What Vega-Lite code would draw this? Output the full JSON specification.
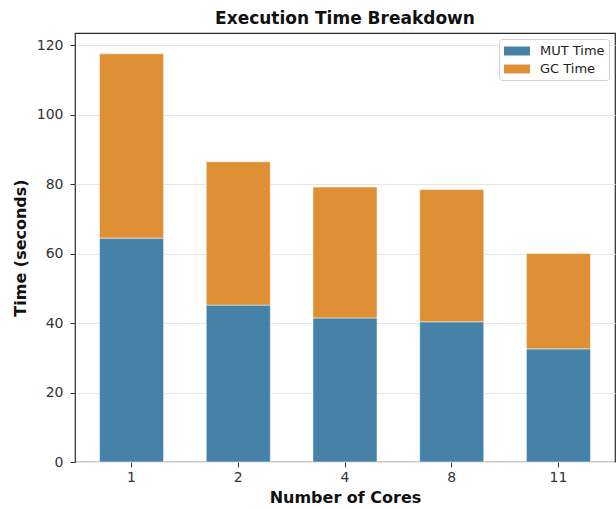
{
  "$schema": "https://vega.github.io/schema/vega-lite/v6.json",
  "width": 540,
  "height": 429,
  "autosize": {"type": "none"},
  "padding": {"left": 75, "top": 33, "right": 1, "bottom": 47},
  "background": "white",
  "config": {
    "font": "DejaVu Sans",
    "view": {"stroke": "#2a2a2a", "strokeWidth": 1.2},
    "axis": {"labelFont": "DejaVu Sans", "titleFont": "DejaVu Sans", "labelColor": "#333", "titleColor": "#111", "tickColor": "#333", "domain": false, "tickSize": 5, "labelFontSize": 14, "titleFontSize": 16, "titleFontWeight": "bold"}
  },
  "title": {"text": "Execution Time Breakdown", "fontSize": 17, "fontWeight": "bold", "font": "DejaVu Sans", "color": "#111", "offset": 5},
  "data": {
    "values": [
      {"cores": "1", "series": "MUT Time", "time": 64.5},
      {"cores": "1", "series": "GC Time", "time": 53.1},
      {"cores": "2", "series": "MUT Time", "time": 45.2},
      {"cores": "2", "series": "GC Time", "time": 41.3},
      {"cores": "4", "series": "MUT Time", "time": 41.5},
      {"cores": "4", "series": "GC Time", "time": 37.7},
      {"cores": "8", "series": "MUT Time", "time": 40.4},
      {"cores": "8", "series": "GC Time", "time": 38.1},
      {"cores": "11", "series": "MUT Time", "time": 32.6},
      {"cores": "11", "series": "GC Time", "time": 27.5}
    ]
  },
  "mark": {"type": "bar", "stroke": "#ffffff", "strokeOpacity": 0.6, "strokeWidth": 0.8},
  "encoding": {
    "x": {
      "field": "cores", "type": "ordinal", "sort": null,
      "scale": {"paddingInner": 0.4, "paddingOuter": 0.23},
      "axis": {"title": "Number of Cores", "labelAngle": 0, "labelPadding": 3, "titlePadding": 5, "grid": false}
    },
    "y": {
      "field": "time", "type": "quantitative", "stack": "zero",
      "scale": {"domain": [0, 123.6], "nice": false, "zero": true},
      "axis": {"title": "Time (seconds)", "values": [0, 20, 40, 60, 80, 100, 120], "grid": true, "gridColor": "#e6e6e6", "gridWidth": 1, "labelPadding": 7, "titlePadding": 8}
    },
    "color": {
      "field": "series", "type": "nominal",
      "scale": {"domain": ["MUT Time", "GC Time"], "range": ["#4682a8", "#e09034"]},
      "legend": {
        "title": null, "orient": "top-right", "offset": 6,
        "symbolType": "M-1.625,-0.56L1.625,-0.56L1.625,0.56L-1.625,0.56Z", "symbolSize": 256, "symbolStrokeWidth": 0, "symbolOffset": 6,
        "labelFontSize": 13, "labelFont": "DejaVu Sans", "labelColor": "#222", "labelOffset": 15,
        "rowPadding": 3, "padding": 4, "strokeColor": "#d0d0d0", "cornerRadius": 3, "fillColor": "white"
      }
    },
    "order": {"field": "series", "sort": "descending"}
  }
}
